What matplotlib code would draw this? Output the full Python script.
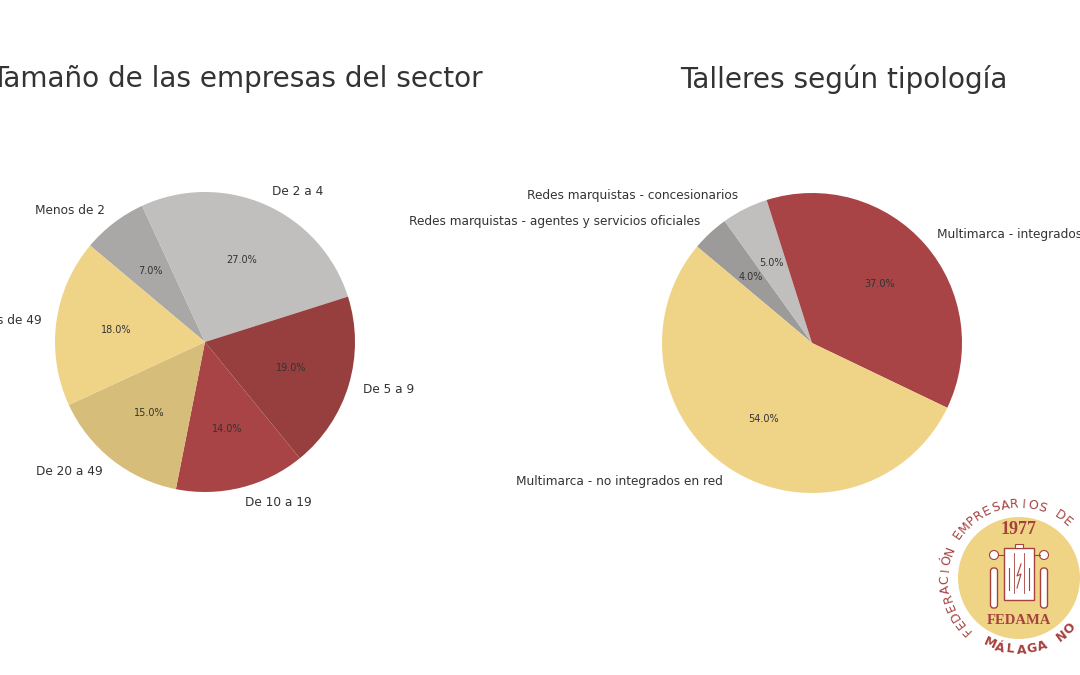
import numpy as np
import matplotlib
matplotlib.use("Agg")
import matplotlib.pyplot as plt
from matplotlib.patches import Circle, FancyBboxPatch, Rectangle

# datos
size_labels = ["Menos de 2", "De 2 a 4", "De 5 a 9", "De 10 a 19", "De 20 a 49", "Más de 49"]
size_values = [7, 27, 19, 14, 15, 18]
size_colors = ["#a9a8a7", "#c0bfbe", "#973f3e", "#a84446", "#d6bd7a", "#efd488"]

type_labels = ["Redes marquistas - agentes y servicios oficiales",
               "Redes marquistas - concesionarios",
               "Multimarca - integrados en red",
               "Multimarca - no integrados en red"]
type_values = [4, 5, 37, 54]
type_colors = ["#9c9b9a", "#c0bfbe", "#a84446", "#efd488"]

TEXT = "#333333"
RED = "#a5413f"

W, H = 1080, 675
fig = plt.figure(figsize=(W / 100, H / 100), dpi=100)


def px_axes(cx, cy, half):
    # axes centrado en (cx, cy) en pixeles (y desde arriba)
    return fig.add_axes([(cx - half) / W, (H - cy - half) / H, 2 * half / W, 2 * half / H])


def draw_pie(ax, values, labels, colors):
    wedges, texts, autotexts = ax.pie(values, labels=labels, colors=colors, autopct="%1.1f%%",
                                      startangle=140, counterclock=False, labeldistance=1.1,
                                      pctdistance=0.6, textprops=dict(color=TEXT, fontsize=8.7))
    for t in autotexts:
        t.set_fontsize(7)
    ax.set_xlim(-1.25, 1.25)
    ax.set_ylim(-1.25, 1.25)
    ax.set_aspect("equal")
    ax.axis("off")


ax1 = px_axes(205, 342, 187.5)
draw_pie(ax1, size_values, size_labels, size_colors)
ax2 = px_axes(812, 343, 187.5)
draw_pie(ax2, type_values, type_labels, type_colors)

fig.text(483 / W, 1 - 79 / H, "Tamaño de las empresas del sector", ha="right", va="center",
         fontsize=20.1, color=TEXT)
fig.text(844 / W, 1 - 79 / H, "Talleres según tipología", ha="center", va="center",
         fontsize=20.1, color=TEXT)

# logo
lg = px_axes(1019, 578, 100)
lg.set_xlim(-100, 100)
lg.set_ylim(-100, 100)
lg.set_aspect("equal")
lg.axis("off")
lg.add_patch(Circle((0, 0), 61, color="#efd486", lw=0))

top_txt = "FEDERACIÓN EMPRESARIOS DE"
for i, ch in enumerate(top_txt):
    a = 225 - i * 7.3
    r = np.deg2rad(a)
    lg.text(74 * np.cos(r), 74 * np.sin(r), ch, rotation=a - 90, ha="center", va="center",
            fontsize=9, color=RED)

bot_txt = "MÁLAGA NO"
for i, ch in enumerate(bot_txt):
    a = 246 + i * 8.6
    r = np.deg2rad(a)
    lg.text(72 * np.cos(r), 72 * np.sin(r), ch, rotation=a + 90, ha="center", va="center",
            fontsize=9, color=RED, fontweight="bold")

lg.text(0, 48, "1977", ha="center", va="center", fontsize=13, color=RED,
        family="Liberation Serif", fontweight="bold")
lg.text(0, -42, "FEDAMA", ha="center", va="center", fontsize=10.5, color=RED,
        family="Liberation Serif", fontweight="bold")
lg.add_patch(Rectangle((-15, -22), 30, 52, facecolor="white", edgecolor=RED, lw=1))
lg.add_patch(Rectangle((-4, 30), 8, 4, facecolor="white", edgecolor=RED, lw=0.8))
for sx in (-1, 1):
    lg.add_patch(FancyBboxPatch((sx * 25 - 3.5, -30), 7, 40, boxstyle="round,pad=0,rounding_size=3",
                                facecolor="white", edgecolor=RED, lw=1))
    lg.add_patch(Circle((sx * 25, 23), 4.5, facecolor="white", edgecolor=RED, lw=0.8))
    lg.plot([sx * 15, sx * 21], [23, 23], color=RED, lw=0.8)
lg.plot([-5, -5], [-15, 25], color=RED, lw=0.6)
lg.plot([5, 5], [-15, 25], color=RED, lw=0.6)
lg.plot([-10, -10], [-12, 10], color=RED, lw=0.8)
lg.plot([10, 10], [-12, 10], color=RED, lw=0.8)
lg.plot([2, -2, 2, -2], [14, 2, 4, -10], color=RED, lw=0.8)

fig.savefig("out.png", dpi=100)
